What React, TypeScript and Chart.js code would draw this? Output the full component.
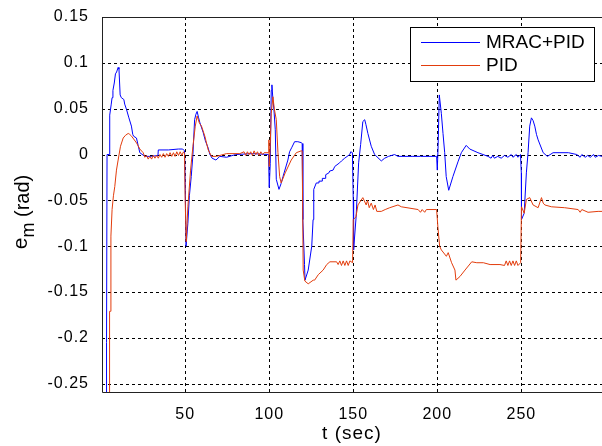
import React, { useEffect, useRef } from 'react';
import { Chart, registerables } from 'chart.js';
Chart.register(...registerables);

const xTicks = [50, 100, 150, 200, 250];
const yTicks = [0.15, 0.1, 0.05, 0, -0.05, -0.1, -0.15, -0.2, -0.25];
const seriesLabels = ['MRAC+PID', 'PID'];
const xTitle = 't (sec)';

const mracT = [
  2.9, 3.0, 3.4, 3.5, 5.0, 5.1, 6.0, 6.5, 7.0, 7.8, 8.5, 9.2, 10.1, 10.6, 11.3, 12.0, 13.5, 14.0, 15.1, 16.5,
  18.0, 18.8, 19.3, 21.0, 22.0, 23.0, 26.0, 30.0, 33.8, 34.0, 40.0, 46.0, 48.5, 49.6, 50.0, 50.5, 51.6, 52.5, 53.6, 54.6,
  55.6, 56.4, 57.1, 58.0, 58.7, 60.7, 62.0, 63.7, 64.7, 66.0, 68.3, 70.6, 74.6, 80, 90, 99.6, 100.0, 100.6, 101.2, 101.6,
  102.2, 102.8, 103.6, 104.2, 105.8, 107.0, 108.2, 111.1, 112.1, 113.5, 115.1, 117.0, 119.0, 119.6, 120.0, 121.0, 121.3, 123.2, 125.3, 126.1,
  126.5, 128.0, 129.5, 129.6, 131.5, 131.6, 133.5, 133.6, 135.5, 136, 138, 139, 141.9, 143, 144.9, 147.9, 148.5, 149.5, 150.0, 150.2,
  151.7, 153.2, 154.4, 155.7, 156.8, 157.5, 158.7, 160.7, 162.7, 166.7, 168.7, 171, 174.6, 176.6, 185, 190, 199.6, 200.0, 200.5, 201.2,
  202.4, 203.4, 204.4, 205.3, 206.8, 209.3, 212.3, 214.3, 217.2, 219.3, 224.2, 230.2, 232, 233, 234, 236, 238, 240, 242, 244,
  245, 247, 248, 249.5, 250.0, 250.1, 251.7, 253.0, 254.0, 255.0, 256.0, 257, 258.0, 259, 260.0, 263.0, 265.5, 268.9, 273, 278,
  283, 285, 286, 288, 289.5, 291, 293, 294, 296, 298,
];
const mracV = [
  -0.30, -0.205, -0.205, 0, 0, 0.043, 0.055, 0.062, 0.07, 0.078, 0.088, 0.09, 0.095, 0.093, 0.065, 0.062, 0.06, 0.055, 0.049, 0.04,
  0.031, 0.022, 0.02, 0.018, 0.01, 0.002, -0.002, -0.002, -0.001, 0.005, 0.005, 0.006, 0.006, 0.004, -0.03, -0.1, -0.075, -0.045, -0.024, 0,
  0.038, 0.044, 0.047, 0.04, 0.035, 0.024, 0.015, 0.007, 0, -0.004, -0.006, -0.002, -0.003, 0, 0.001, 0.0, -0.036, -0.01, 0.07, 0.076,
  0.06, 0.049, 0.027, -0.027, -0.038, -0.032, -0.024, -0.006, 0.003, 0.008, 0.014, 0.014, 0.013, 0.012, -0.071, -0.12, -0.137, -0.126, -0.1, -0.071,
  -0.038, -0.031, -0.031, -0.029, -0.029, -0.026, -0.026, -0.022, -0.02, -0.018, -0.017, -0.013, -0.009, -0.007, -0.004, 0, 0.003, 0.002, -0.05, -0.104,
  -0.068, -0.009, 0.011, 0.036, 0.038, 0.033, 0.023, 0.009, 0, -0.007, -0.004, -0.002, 0, -0.002, -0.002, -0.002, -0.002, -0.017, 0.01, 0.065,
  0.045, 0.023, 0.002, -0.024, -0.039, -0.024, -0.008, 0.002, 0.01, 0.006, 0.002, -0.002, -0.004, -0.001, -0.004, -0.002, -0.004, -0.001, -0.003, 0.0,
  -0.003, 0.0, -0.003, 0.0, -0.02, -0.071, -0.064, -0.02, 0.002, 0.031, 0.04, 0.037, 0.031, 0.022, 0.016, 0.002, -0.002, 0.002, 0.002, 0.002,
  0.0, -0.003, 0.0, -0.003, -0.001, -0.003, 0.0, -0.003, -0.001, -0.002,
];

const pidT = [
  4.9, 5.0, 5.7, 5.8, 6.5, 7.3, 8.1, 9.1, 10.1, 11.5, 13.1, 14.5, 16.1, 17, 18.1, 21.1, 23, 25, 26, 27,
  28, 29, 30, 31, 32, 33, 34, 35, 36, 37, 38, 39, 40, 41, 42, 43, 44, 45, 46, 47,
  48, 49, 49.6, 50.0, 50.6, 51.6, 53.2, 54.6, 56.0, 57.1, 58.5, 59.7, 61.7, 63.7, 65.7, 68.7, 74.6, 82.5, 85, 86,
  87, 88, 89, 90, 91, 92, 93, 94, 95, 96, 97, 99.6, 99.8, 100.0, 100.5, 101.2, 102.2, 103, 104.2, 105.2,
  106.2, 107.1, 109.5, 113.1, 116.1, 119, 119.6, 120.2, 121.2, 123.2, 126.2, 127, 129.2, 132.1, 134.2, 136.1, 140.1, 141, 142, 143,
  144, 145, 146, 147, 148, 149.6, 150.0, 151.6, 152.8, 155.7, 157.7, 158.5, 159.5, 160.7, 162, 163, 164, 166.7, 169, 171.7,
  176.6, 178.6, 188.6, 190, 191, 192.5, 193.5, 199.6, 200.4, 201.4, 202.4, 205.4, 206.5, 208.5, 210.5, 211.1, 213.5, 216.5, 220.5, 223.5,
  227.4, 231.4, 237.3, 240, 241, 242, 243, 244, 245, 246, 247, 248, 249.6, 250.1, 251.7, 253, 255, 257, 260, 262,
  263, 264, 267.9, 275.8, 283.8, 285, 286, 289.7, 295.7, 298,
];
const pidV = [
  -0.30, -0.171, -0.171, -0.089, -0.06, -0.045, -0.035, -0.017, -0.006, 0.009, 0.018, 0.021, 0.023, 0.022, 0.02, 0.0125, 0.006, 0.002, -0.003, -0.001,
  -0.005, -0.002, -0.005, -0.001, -0.004, -0.001, -0.004, 0.0, -0.003, 0.001, -0.003, 0.001, -0.002, 0.002, -0.002, 0.002, -0.002, 0.003, -0.001, 0.003,
  -0.001, 0.003, 0.001, -0.05, -0.095, -0.057, -0.017, 0.009, 0.031, 0.042, 0.034, 0.031, 0.02, 0.005, -0.002, -0.002, 0.001, 0.001, 0.003, -0.001,
  0.003, 0.0, 0.003, -0.001, 0.004, 0.0, 0.003, -0.001, 0.003, 0.0, 0.002, 0.002, 0.016, -0.013, 0.005, 0.045, 0.063, 0.05, 0.038, 0.002,
  -0.024, -0.031, -0.02, -0.006, 0.002, 0.004, 0.004, -0.126, -0.138, -0.141, -0.137, -0.137, -0.131, -0.126, -0.12, -0.117, -0.117, -0.12, -0.116, -0.121,
  -0.116, -0.121, -0.116, -0.121, -0.116, -0.118, -0.071, -0.068, -0.055, -0.047, -0.055, -0.05, -0.058, -0.053, -0.06, -0.055, -0.062, -0.062, -0.06, -0.058,
  -0.055, -0.057, -0.06, -0.063, -0.06, -0.063, -0.06, -0.06, -0.08, -0.1, -0.104, -0.111, -0.107, -0.118, -0.126, -0.137, -0.133, -0.126, -0.117, -0.118,
  -0.118, -0.12, -0.12, -0.121, -0.116, -0.121, -0.116, -0.121, -0.116, -0.121, -0.116, -0.121, -0.118, -0.057, -0.064, -0.049, -0.047, -0.055, -0.058, -0.047,
  -0.053, -0.055, -0.057, -0.058, -0.06, -0.063, -0.06, -0.063, -0.062, -0.062,
];

const BLUE = '#0000ff';
const RED = '#e23c0c';
const FONT = '"Liberation Sans", Arial, sans-serif';

const toPts = (t: number[], v: number[]) => t.map((x, i) => ({ x, y: v[i] }));

export default function App() {
  const ref = useRef<HTMLCanvasElement>(null);
  useEffect(() => {
    document.body.style.margin = '0';
    const canvas = ref.current!;
    const framePlugin = {
      id: 'frame',
      beforeDraw(chart: any) {
        chart.ctx.letterSpacing = '1px';
      },
      beforeDatasetsDraw(chart: any) {
        const { ctx, chartArea: a, scales } = chart;
        ctx.save();
        ctx.strokeStyle = '#000';
        ctx.lineWidth = 1;
        ctx.setLineDash([3, 3]);
        for (const t of xTicks) {
          const x = Math.round(scales.x.getPixelForValue(t)) + 0.5;
          ctx.beginPath(); ctx.moveTo(x, a.top); ctx.lineTo(x, a.bottom); ctx.stroke();
        }
        for (const v of yTicks) {
          const y = Math.round(scales.y.getPixelForValue(v)) + 0.5;
          ctx.beginPath(); ctx.moveTo(a.left, y); ctx.lineTo(a.right, y); ctx.stroke();
        }
        ctx.restore();
      },
      afterDraw(chart: any) {
        const { ctx, chartArea: a } = chart;
        ctx.save();
        ctx.setLineDash([]);
        ctx.strokeStyle = '#222';
        ctx.lineWidth = 1;
        const L = Math.round(a.left) + 0.5, T = Math.round(a.top) + 0.5, B = Math.round(a.bottom) + 0.5;
        ctx.beginPath();
        ctx.moveTo(a.right, T); ctx.lineTo(L, T); ctx.lineTo(L, B); ctx.lineTo(a.right, B);
        ctx.stroke();

        // legend
        ctx.letterSpacing = '0px';
        ctx.fillStyle = '#fff';
        ctx.fillRect(410.5, 27.5, 184, 54);
        ctx.strokeStyle = '#000';
        ctx.strokeRect(410.5, 27.5, 184, 54);
        const colors = [BLUE, RED];
        const ys = [42.5, 65.5];
        ctx.font = `19px ${FONT}`;
        ctx.textBaseline = 'middle';
        ctx.textAlign = 'left';
        seriesLabels.forEach((lab, i) => {
          ctx.strokeStyle = colors[i];
          ctx.beginPath(); ctx.moveTo(421, ys[i]); ctx.lineTo(480, ys[i]); ctx.stroke();
          ctx.fillStyle = '#000';
          ctx.fillText(lab, 486, ys[i] + 0.5);
        });

        // x title
        ctx.letterSpacing = '1px';
        ctx.textAlign = 'center';
        ctx.textBaseline = 'middle';
        ctx.font = `19px ${FONT}`;
        ctx.fillText(xTitle, (a.left + a.right) / 2, 434);

        // y title with subscript
        ctx.letterSpacing = '0px';
        ctx.translate(29, 212);
        ctx.rotate(-Math.PI / 2);
        ctx.textAlign = 'left';
        ctx.textBaseline = 'alphabetic';
        const f1 = `21px ${FONT}`, f2 = `18px ${FONT}`, f3 = `20px ${FONT}`;
        ctx.font = f1; const w1 = ctx.measureText('e').width;
        ctx.font = f2; const w2 = ctx.measureText('m').width;
        ctx.font = f3; const w3 = ctx.measureText(' (rad)').width;
        let x0 = -(w1 + w2 + w3) / 2;
        ctx.font = f1; ctx.fillText('e', x0, -2); x0 += w1;
        ctx.font = f2; ctx.fillText('m', x0, 5); x0 += w2;
        ctx.font = f3; ctx.fillText(' (rad)', x0, 0);
        ctx.restore();
      },
    };

    const chart = new Chart(canvas, {
      type: 'line',
      data: {
        datasets: [
          { label: seriesLabels[0], data: toPts(mracT, mracV), borderColor: BLUE, borderWidth: 1, pointRadius: 0, tension: 0, order: 1 },
          { label: seriesLabels[1], data: toPts(pidT, pidV), borderColor: RED, borderWidth: 1, pointRadius: 0, tension: 0, order: 0 },
        ],
      },
      options: {
        responsive: false,
        devicePixelRatio: 1,
        animation: false,
        layout: { padding: { top: 17, left: 0, right: 0, bottom: 0 } },
        plugins: { legend: { display: false }, tooltip: { enabled: false } },
        scales: {
          x: {
            type: 'linear',
            min: 0.5,
            max: 298,
            grid: { display: false },
            border: { display: false },
            afterBuildTicks: (s: any) => { s.ticks = xTicks.map((v) => ({ value: v })); },
            afterFit: (s: any) => { s.height = 54; },
            ticks: { color: '#000', padding: 5, font: { family: FONT, size: 16 }, maxRotation: 0, callback: (v: any) => String(v) },
          },
          y: {
            type: 'linear',
            min: -0.259,
            max: 0.15,
            grid: { display: false },
            border: { display: false },
            afterBuildTicks: (s: any) => { s.ticks = yTicks.map((v) => ({ value: v })); },
            afterFit: (s: any) => { s.width = 102; },
            ticks: { color: '#000', padding: 5, font: { family: FONT, size: 16 }, callback: (v: any) => String(Math.round(v * 100) / 100) },
          },
        },
      },
      plugins: [framePlugin],
    } as any);
    return () => chart.destroy();
  }, []);
  return <canvas ref={ref} width={602} height={446} style={{ display: 'block' }} />;
}
